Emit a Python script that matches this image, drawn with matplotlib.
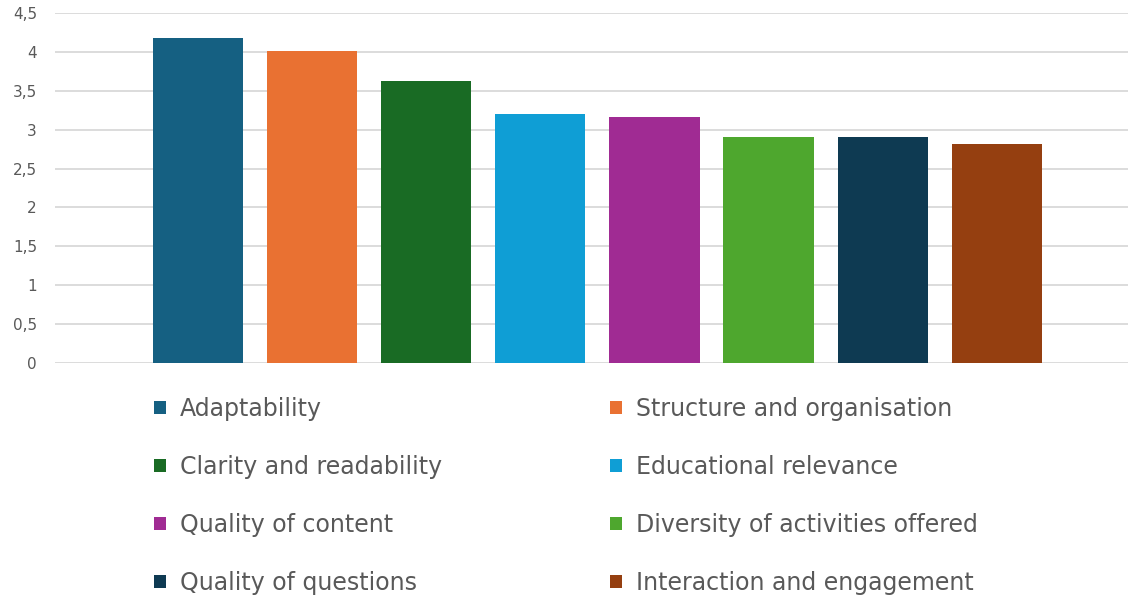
import matplotlib
matplotlib.use('Agg')
import matplotlib.pyplot as plt
import matplotlib.ticker as ticker
from matplotlib.patches import Patch

# data
labels = ['Adaptability', 'Structure and organisation', 'Clarity and readability',
          'Educational relevance', 'Quality of content', 'Diversity of activities offered',
          'Quality of questions', 'Interaction and engagement']
values = [4.18, 4.01, 3.63, 3.20, 3.16, 2.91, 2.91, 2.82]
colors = ['#156082', '#E97132', '#196B24', '#0F9ED5', '#A02B93', '#4EA72E', '#0E3A52', '#953F10']
yticks = [0, 0.5, 1, 1.5, 2, 2.5, 3, 3.5, 4, 4.5]

plt.rcParams['font.family'] = ['DejaVu Sans']
txtcol = '#595959'

fig = plt.figure(figsize=(11.28, 5.95), dpi=100)
ax = fig.add_axes([55/1128, 1 - 363/595, 1 - 55/1128, 350/595])

xs = list(range(len(values)))
bars = ax.bar(xs, values, width=0.79, color=colors, zorder=3)

ax.set_ylim(0, 4.5)
ax.set_xlim(-1.253, 8.15)
ax.set_yticks(yticks)
ax.yaxis.set_major_formatter(ticker.FuncFormatter(lambda v, p: ('%g' % v).replace('.', ',')))
ax.set_xticks([])
ax.grid(axis='y', color='#d9d9d9', linewidth=1.3, zorder=0)
for s in ax.spines.values():
    s.set_visible(False)
ax.tick_params(axis='y', length=0, pad=13, labelsize=11, labelcolor=txtcol)

# legend filled row-wise, two columns
order = [0, 2, 4, 6, 1, 3, 5, 7]
handles = [Patch(facecolor=colors[i], label=labels[i]) for i in order]
leg = fig.legend(handles=handles, ncol=2, loc='upper left',
                 bbox_to_anchor=(154/1128, 1 - 397/595), frameon=False,
                 fontsize=17, labelcolor=txtcol, handlelength=0.5, handleheight=0.5,
                 handletextpad=0.6, labelspacing=1.44, columnspacing=7.12,
                 borderaxespad=0, borderpad=0)

plt.savefig('out.png', dpi=100)
